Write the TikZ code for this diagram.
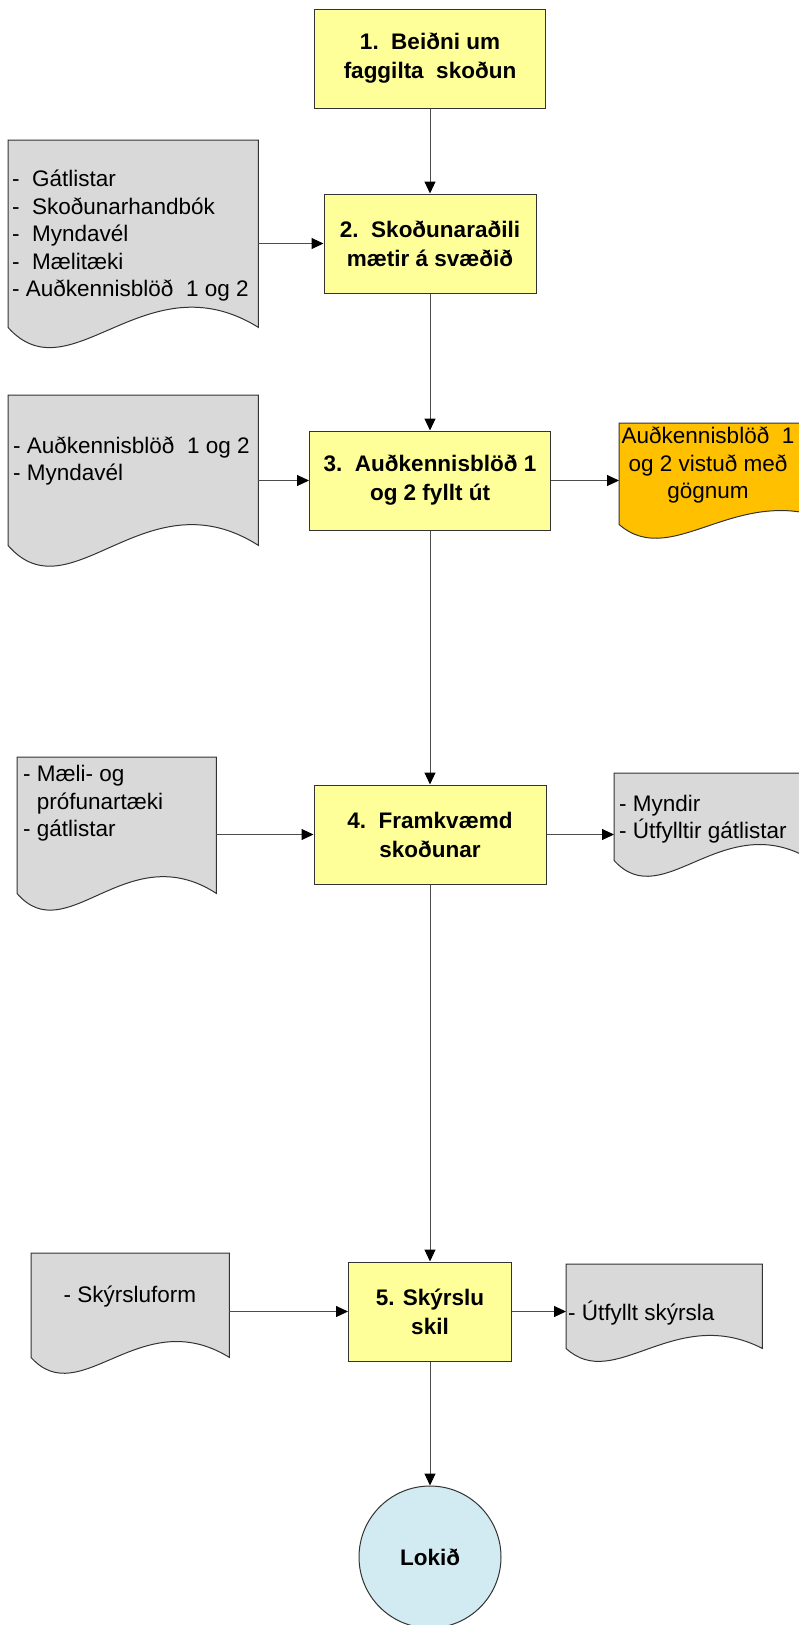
\documentclass[tikz,border=0pt]{standalone}
\usepackage{fontspec}
\setmainfont{Liberation Sans}
\usetikzlibrary{arrows.meta,positioning,calc,backgrounds}

\definecolor{stepyellow}{HTML}{FFFF99}
\definecolor{docgray}{HTML}{D9D9D9}
\definecolor{saveorange}{HTML}{FFC000}
\definecolor{endblue}{HTML}{D2EAF1}

\tikzset{
  stepbox/.style={draw=black!80, line width=1pt, fill=stepyellow, minimum height=99pt,
    inner sep=0pt, align=center, font=\bfseries\fontsize{22.5}{29}\selectfont},
  docframe/.style={inner sep=0pt, anchor=north west},
  doctext/.style={inner sep=0pt, align=left, anchor=west, font=\fontsize{22.5}{27.5}\selectfont},
  docline/.style={draw=black!80, line width=1pt},
  flow/.style={draw=black!70, line width=1pt, -{Triangle[length=12pt,width=11pt,color=black]}},
}

% document shape round a frame node: name, fill, wave height
\newcommand{\docshape}[3]{%
  \path[docline, fill=#2] (#1.south west) -- (#1.north west) -- (#1.north east) -- (#1.south east)
    .. controls ($(#1.south east)!0.45!(#1.south west)+(0,-#3)$)
    and ($(#1.south west)!0.25!(#1.south east)+(0,#3)$) .. (#1.south west) -- cycle;}

\begin{document}
\begin{tikzpicture}[x=1pt, y=-1pt]
        \useasboundingbox (0,0) rectangle (798,1625);
        % Steps
        \node [stepbox, minimum width=231pt] (b1) at (430,58.5) {1.~~Beiðni um\\faggilta~~skoðun};
        \node [stepbox, minimum width=212pt] (b2) at (430,243.5) {2.~~Skoðunaraðili\\mætir á svæðið};
        \node [stepbox, minimum width=241pt] (b3) at (430,480.5) {3.~~Auðkennisblöð 1\\og 2 fyllt út};
        \node [stepbox, minimum width=232pt] (b4) at (430,834.5) {4.~~Framkvæmd\\skoðunar};
        \node [stepbox, minimum width=163pt] (b5) at (430,1311.5) {5. Skýrslu\\skil};
        \node [circle, draw=black!80, line width=1pt, fill=endblue, minimum size=142pt, inner sep=0pt,
               font=\bfseries\fontsize{22.5}{27}\selectfont] (lokid) at (430,1557) {Lokið};
        % Documents
        \node [docframe, minimum width=250pt, minimum height=187pt] (d1) at (8,140) {};
        \node [docframe, minimum width=250pt, minimum height=150pt] (d2) at (8,395) {};
        \node [docframe, minimum width=220pt, minimum height=101pt] (o1) at (619,423) {};
        \node [docframe, minimum width=199pt, minimum height=136pt] (d3) at (17,757) {};
        \node [docframe, minimum width=198pt, minimum height=87pt] (d4) at (614,773) {};
        \node [docframe, minimum width=198pt, minimum height=104pt] (d5) at (31,1253) {};
        \node [docframe, minimum width=196pt, minimum height=84pt] (d6) at (566,1264) {};
        \begin{scope}[on background layer]
            \docshape{d1}{docgray}{70}
            \docshape{d2}{docgray}{72}
            \docshape{o1}{saveorange}{48}
            \docshape{d3}{docgray}{58}
            \docshape{d4}{docgray}{55}
            \docshape{d5}{docgray}{55}
            \docshape{d6}{docgray}{45}
        \end{scope}
        % Texts
        \node [doctext] (d1t) at (12,236) {-~~Gátlistar\\-~~Skoðunarhandbók\\-~~Myndavél\\-~~Mælitæki\\-~Auðkennisblöð~~1 og 2};
        \node [doctext] (d2t) at (13,461) {-~Auðkennisblöð~~1 og 2\\-~Myndavél};
        \node [doctext, anchor=center, align=center] (o1t) at (708,465.5) {Auðkennisblöð~~1\\og 2 vistuð með\\gögnum};
        \node [doctext] (d3t) at (23,803.5) {-~Mæli- og\\\phantom{-}~prófunartæki\\-~gátlistar};
        \node [doctext] (d4t) at (619,819) {-~Myndir\\-~Útfylltir gátlistar};
        \node [doctext, anchor=center] (d5t) at (130,1297) {-~Skýrsluform};
        \node [doctext] (d6t) at (568,1313) {-~Útfyllt skýrsla};
        % Arrows
        \draw [flow] (b1) -- (b2);
        \draw [flow] (b2) -- (b3);
        \draw [flow] (b3) -- (b4);
        \draw [flow] (b4) -- (b5);
        \draw [flow] (b5) -- (lokid);
        \draw [flow] (d1.east |- b2) -- (b2);
        \draw [flow] (d2.east |- b3) -- (b3);
        \draw [flow] (b3) -- (o1.west |- b3);
        \draw [flow] (d3.east |- b4) -- (b4);
        \draw [flow] (b4) -- (d4.west |- b4);
        \draw [flow] (d5.east |- b5) -- (b5);
        \draw [flow] (b5) -- (d6.west |- b5);
\end{tikzpicture}
\end{document}
